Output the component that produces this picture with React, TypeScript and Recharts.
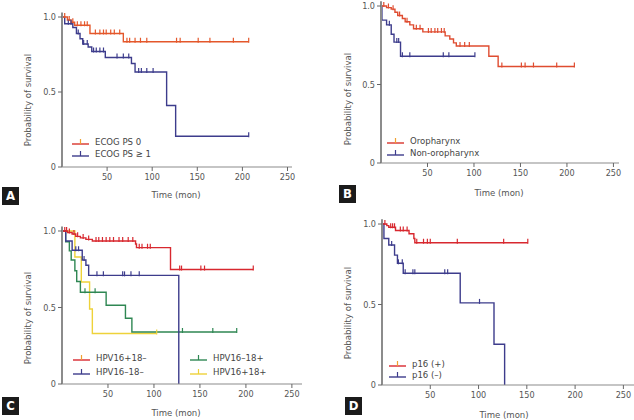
import React from 'react';
import { LineChart, Line, XAxis, YAxis } from 'recharts';

const FONT = '"Liberation Sans Narrow", "DejaVu Sans Condensed", "Open Sans", sans-serif';
const AXIS_GRAY = '#8c8c8c';
const TEXT_GRAY = '#555';

const ORANGE = '#e4572b';
const RED_B = '#df4c30';
const RED = '#d8282f';
const NAVY = '#3d3c8c';
const GREEN = '#2f8753';
const YELLOW = '#eed23a';

const xTicks = [50, 100, 150, 200, 250];
const yTicks = [0, 0.5, 1];

// Panel A - ECOG PS
const ecog0Steps = [[0, 1], [6, 0.98], [10, 0.965], [14, 0.945], [31, 0.89], [68, 0.835]];
const ecog0Censor = [3, 8, 12, 17, 21, 25, 28, 37, 42, 46, 49, 54, 58, 64, 72, 75, 81, 87, 94, 127, 131, 151, 164, 190, 207];
const ecog1Steps = [[0, 1], [3, 0.955], [12, 0.93], [16, 0.89], [20, 0.855], [23, 0.82], [29, 0.8], [33, 0.77], [48, 0.73], [77, 0.69], [81, 0.633], [116, 0.41], [126, 0.205]];
const ecog1Censor = [7, 10, 18, 24, 28, 35, 38, 42, 46, 61, 68, 74, 85, 88, 94, 101, 207];

// Panel B - tumour site
const oroSteps = [[0, 1], [6, 0.99], [11, 0.98], [15, 0.96], [18, 0.94], [23, 0.92], [26, 0.9], [31, 0.88], [35, 0.855], [45, 0.835], [69, 0.81], [74, 0.79], [78, 0.765], [81, 0.745], [116, 0.68], [126, 0.615]];
const oroCensor = [3, 8, 13, 20, 28, 38, 42, 51, 54, 58, 61, 65, 68, 85, 90, 95, 130, 151, 155, 164, 189, 208];
const nonOroSteps = [[0, 1], [1, 0.91], [6, 0.88], [11, 0.82], [14, 0.77], [21, 0.68]];
const nonOroCensor = [9, 17, 19, 23, 31, 67, 73, 101];

// Panel C - HPV type
const hpvPosNegSteps = [[0, 1], [6, 0.99], [11, 0.98], [15, 0.965], [20, 0.955], [26, 0.945], [33, 0.935], [80, 0.915], [81, 0.891], [118, 0.748]];
const hpvPosNegCensor = [3, 5, 8, 13, 17, 23, 29, 37, 40, 44, 48, 52, 56, 62, 66, 72, 77, 84, 87, 93, 96, 128, 130, 151, 155, 208];
const hpvNegNegSteps = [[0, 1], [4, 0.935], [11, 0.874], [22, 0.81], [26, 0.776], [29, 0.71], [127, 0]];
const hpvNegNegCensor = [15, 18, 24, 38, 45, 66, 68, 75, 84];
const hpvNegPosSteps = [[0, 1], [4, 0.93], [8, 0.87], [10, 0.81], [14, 0.74], [16, 0.67], [20, 0.6], [48, 0.515], [69, 0.43], [76, 0.34]];
const hpvNegPosCensor = [25, 36, 131, 164, 190];
const hpvPosPosSteps = [[0, 1], [14, 0.83], [21, 0.667], [30, 0.49], [33, 0.33]];
const hpvPosPosCensor = [103];

// Panel D - p16
const p16PosSteps = [[0, 1], [5, 0.99], [7, 0.98], [14, 0.96], [28, 0.94], [33, 0.91], [34, 0.884]];
const p16PosCensor = [3, 9, 11, 13, 19, 22, 26, 36, 43, 47, 50, 78, 126, 151];
const p16NegSteps = [[0, 1], [2, 0.91], [7, 0.87], [13, 0.807], [16, 0.756], [22, 0.694], [81, 0.51], [116, 0.253], [127, 0]];
const p16NegCensor = [10, 17, 21, 24, 32, 34, 65, 68, 101];

// survival level at time t (last step at or before t)
function levelAt(steps: number[][], t: number) {
  let s = 1;
  for (const [st, sv] of steps) if (st <= t) s = sv;
  return s;
}

function kmData(steps: number[][], censor: number[]) {
  const pts = steps.map(([t, s]) => ({ t, s, c: false }));
  censor.forEach((t) => pts.push({ t, s: levelAt(steps, t), c: true }));
  return pts.sort((a, b) => a.t - b.t || (a.c ? 1 : 0) - (b.c ? 1 : 0));
}

type Series = { name: string; color: string; steps: number[][]; censor: number[] };
type LegendItem = { name: string; color: string; tick: string; x: number; y: number };

interface PanelProps {
  left: number;
  top: number;
  plotLeft: number;
  plotRight: number;
  plotTop: number;
  plotBottom: number;
  xMax: number;
  series: Series[];
  legend: LegendItem[];
  letter: string;
  letterPos: [number, number];
  yLabelPos: [number, number];
  xLabelPos: [number, number];
}

const W = 317;
const H = 210;
const Y_AXIS_W = 30;
const X_AXIS_H = 30;

function censorDot(color: string) {
  return (p: any) => {
    const { cx, cy, payload, index } = p;
    if (!payload || !payload.c) return <g key={`n-${index}`} />;
    return <line key={`c-${index}`} x1={cx} x2={cx} y1={cy - 4} y2={cy + 1} stroke={color} strokeWidth={1.2} />;
  };
}

function Panel(props: PanelProps) {
  const { left, top, plotLeft, plotRight, plotTop, plotBottom, xMax, series, legend } = props;
  const margin = {
    left: plotLeft - Y_AXIS_W,
    right: W - plotRight,
    top: plotTop,
    bottom: H - plotBottom - X_AXIS_H,
  };
  return (
    <div style={{ position: 'absolute', left, top, width: W, height: H }}>
      <LineChart width={W} height={H} margin={margin}>
        <XAxis
          type="number"
          dataKey="t"
          domain={[0, xMax]}
          ticks={xTicks}
          allowDataOverflow
          height={X_AXIS_H}
          tickSize={4}
          tickMargin={3}
          tick={{ fill: TEXT_GRAY, fontSize: 9, fontFamily: FONT }}
          tickLine={{ stroke: '#666' }}
          axisLine={{ stroke: AXIS_GRAY, strokeWidth: 1.2 }}
        />
        <YAxis
          type="number"
          dataKey="s"
          domain={[0, 1.03]}
          ticks={yTicks}
          allowDataOverflow
          width={Y_AXIS_W}
          tickSize={4}
          tickMargin={2}
          tickFormatter={(v: number) => (v === 0 ? '0' : v.toFixed(1))}
          tick={{ fill: TEXT_GRAY, fontSize: 9, fontFamily: FONT }}
          tickLine={{ stroke: '#666' }}
          axisLine={{ stroke: AXIS_GRAY, strokeWidth: 2 }}
        />
        {series.map((s) => (
          <Line
            key={s.name}
            name={s.name}
            data={kmData(s.steps, s.censor)}
            dataKey="s"
            type="stepAfter"
            stroke={s.color}
            strokeWidth={1.4}
            dot={censorDot(s.color)}
            activeDot={false}
            isAnimationActive={false}
          />
        ))}
      </LineChart>
      {legend.map((l) => (
        <div
          key={l.name}
          style={{ position: 'absolute', left: l.x, top: l.y - 6, height: 12, display: 'flex', alignItems: 'center' }}
        >
          <svg width={17} height={10} style={{ marginRight: 6 }}>
            <line x1={0} x2={17} y1={8} y2={8} stroke={l.color} strokeWidth={1.4} />
            <line x1={8.5} x2={8.5} y1={3} y2={8} stroke={l.tick} strokeWidth={1.2} />
          </svg>
          <span style={{ fontFamily: FONT, fontSize: 9.5, color: '#444', whiteSpace: 'nowrap' }}>{l.name}</span>
        </div>
      ))}
      <div
        style={{
          position: 'absolute',
          left: props.letterPos[0],
          top: props.letterPos[1],
          width: 17,
          height: 18,
          background: '#1b1b1b',
          color: '#fff',
          fontFamily: FONT,
          fontWeight: 'bold',
          fontSize: 13,
          lineHeight: '18px',
          textAlign: 'center',
        }}
      >
        {props.letter}
      </div>
      <div
        style={{
          position: 'absolute',
          left: props.yLabelPos[0],
          top: props.yLabelPos[1],
          transform: 'translate(-50%, -50%) rotate(-90deg)',
          fontFamily: FONT,
          fontSize: 9.5,
          color: TEXT_GRAY,
          whiteSpace: 'nowrap',
        }}
      >
        Probability of survival
      </div>
      <div
        style={{
          position: 'absolute',
          left: props.xLabelPos[0],
          top: props.xLabelPos[1],
          transform: 'translate(-50%, -50%)',
          fontFamily: FONT,
          fontSize: 9.5,
          color: TEXT_GRAY,
          whiteSpace: 'nowrap',
        }}
      >
        Time (mon)
      </div>
    </div>
  );
}

export default function App() {
  return (
    <div style={{ position: 'absolute', left: 0, top: 0, width: 634, height: 420, background: '#fff', overflow: 'hidden' }}>
      <Panel
        left={0}
        top={0}
        plotLeft={62}
        plotRight={292}
        plotTop={12.5}
        plotBottom={167}
        xMax={255}
        series={[
          { name: 'ECOG PS ≥ 1', color: NAVY, steps: ecog1Steps, censor: ecog1Censor },
          { name: 'ECOG PS 0', color: ORANGE, steps: ecog0Steps, censor: ecog0Censor },
        ]}
        legend={[
          { name: 'ECOG PS 0', color: '#d8342c', tick: '#f0a030', x: 72, y: 141 },
          { name: 'ECOG PS ≥ 1', color: NAVY, tick: NAVY, x: 72, y: 153 },
        ]}
        letter="A"
        letterPos={[2, 187]}
        yLabelPos={[27, 100]}
        xLabelPos={[176, 194]}
      />
      <Panel
        left={317}
        top={0}
        plotLeft={64}
        plotRight={302}
        plotTop={1.3}
        plotBottom={163}
        xMax={256}
        series={[
          { name: 'Non-oropharynx', color: NAVY, steps: nonOroSteps, censor: nonOroCensor },
          { name: 'Oropharynx', color: RED_B, steps: oroSteps, censor: oroCensor },
        ]}
        legend={[
          { name: 'Oropharynx', color: '#d8342c', tick: '#f0a030', x: 70, y: 140 },
          { name: 'Non-oropharynx', color: NAVY, tick: NAVY, x: 70, y: 152 },
        ]}
        letter="B"
        letterPos={[22, 185]}
        yLabelPos={[30, 99]}
        xLabelPos={[182, 192]}
      />
      <Panel
        left={0}
        top={210}
        plotLeft={62}
        plotRight={302}
        plotTop={16.4}
        plotBottom={174}
        xMax={261}
        series={[
          { name: 'HPV16+18+', color: YELLOW, steps: hpvPosPosSteps, censor: hpvPosPosCensor },
          { name: 'HPV16–18+', color: GREEN, steps: hpvNegPosSteps, censor: hpvNegPosCensor },
          { name: 'HPV16–18–', color: NAVY, steps: hpvNegNegSteps, censor: hpvNegNegCensor },
          { name: 'HPV16+18–', color: RED, steps: hpvPosNegSteps, censor: hpvPosNegCensor },
        ]}
        legend={[
          { name: 'HPV16+18–', color: RED, tick: '#f0a030', x: 73, y: 147 },
          { name: 'HPV16–18–', color: NAVY, tick: NAVY, x: 73, y: 161 },
          { name: 'HPV16–18+', color: GREEN, tick: GREEN, x: 190, y: 147 },
          { name: 'HPV16+18+', color: YELLOW, tick: YELLOW, x: 190, y: 161 },
        ]}
        letter="C"
        letterPos={[2, 187]}
        yLabelPos={[27, 108]}
        xLabelPos={[176, 202]}
      />
      <Panel
        left={317}
        top={210}
        plotLeft={65}
        plotRight={317}
        plotTop={9.2}
        plotBottom={175}
        xMax={261}
        series={[
          { name: 'p16 (–)', color: NAVY, steps: p16NegSteps, censor: p16NegCensor },
          { name: 'p16 (+)', color: RED, steps: p16PosSteps, censor: p16PosCensor },
        ]}
        legend={[
          { name: 'p16 (+)', color: RED, tick: '#f0a030', x: 72, y: 153 },
          { name: 'p16 (–)', color: NAVY, tick: NAVY, x: 72, y: 164 },
        ]}
        letter="D"
        letterPos={[28, 187]}
        yLabelPos={[30, 103]}
        xLabelPos={[187, 204]}
      />
    </div>
  );
}
